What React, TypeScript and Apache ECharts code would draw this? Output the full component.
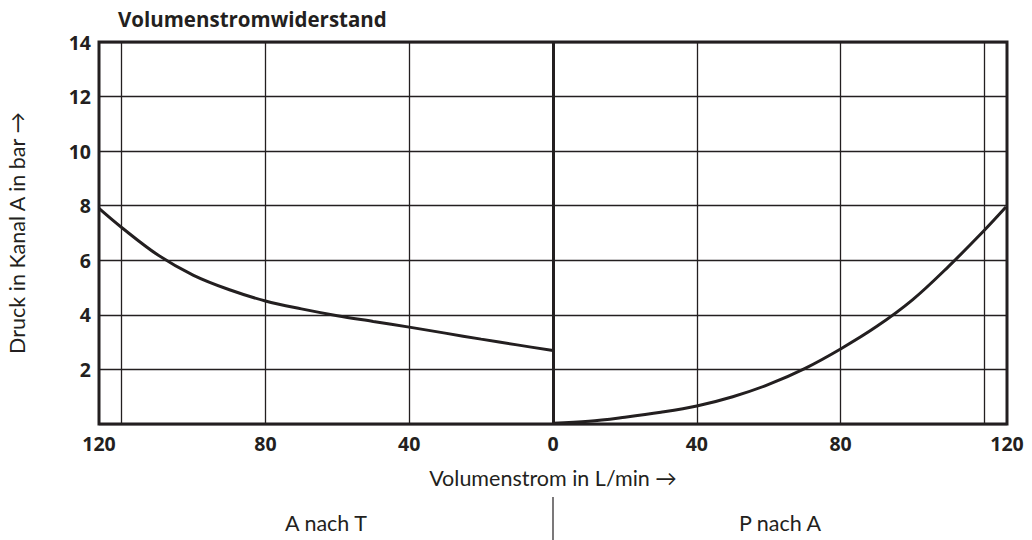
import React, { useEffect, useRef } from "react";
import * as echarts from "echarts";

const AXIS_MAX = 126.3;
const xLabelValues = [-AXIS_MAX, -80, -40, 0, 40, 80, AXIS_MAX];
const gridLinesX = [-120, -80, -40, 40, 80, 120];

// A nach T (left panel, plotted at negative x)
const aNachTFlow = [126.3, 120, 110, 100, 90, 80, 70, 60, 50, 40, 30, 20, 10, 0];
const aNachTPressure = [7.9, 7.2, 6.2, 5.45, 4.92, 4.51, 4.22, 3.97, 3.76, 3.55, 3.33, 3.11, 2.9, 2.69];

// P nach A (right panel)
const pNachAFlow = [0, 10, 20, 30, 40, 50, 60, 70, 80, 90, 100, 110, 120, 126];
const pNachAPressure = [0.03, 0.1, 0.25, 0.43, 0.66, 1.0, 1.45, 2.03, 2.75, 3.57, 4.55, 5.77, 7.1, 7.95];

const INK = "#231f20";
const BOLD_FONT = "'Open Sans', 'Noto Sans', sans-serif";
const LIGHT_FONT = "Lato, 'Open Sans', sans-serif";

export default function App() {
  const ref = useRef<HTMLDivElement>(null);
  useEffect(() => {
    if (!ref.current) return;
    const chart = echarts.init(ref.current, null, { renderer: "svg" });
    const left = aNachTFlow.map((f, i) => [-f, aNachTPressure[i]]);
    const right = pNachAFlow.map((f, i) => [f, pNachAPressure[i]]);
    chart.setOption({
      animation: false,
      backgroundColor: "#ffffff",
      textStyle: { fontFamily: BOLD_FONT, color: INK },
      title: {
        text: "Volumenstromwiderstand",
        left: 113,
        top: 3,
        textStyle: { fontFamily: BOLD_FONT, fontWeight: "bold", fontSize: 20.5, color: INK },
      },
      grid: {
        left: 99,
        right: 25,
        top: 42,
        bottom: 116,
        containLabel: false,
        outerBoundsMode: "none",
        show: true,
        borderColor: INK,
        borderWidth: 3,
        backgroundColor: "transparent",
      },
      xAxis: {
        type: "value",
        min: -AXIS_MAX,
        max: AXIS_MAX,
        name: "Volumenstrom in L/min \u2192",
        nameLocation: "middle",
        nameGap: 43,
        nameTextStyle: { fontFamily: LIGHT_FONT, fontSize: 21.5, color: INK, fontWeight: "normal" },
        axisLine: { show: false },
        axisTick: { show: false },
        splitLine: { show: false },
        axisLabel: {
          customValues: xLabelValues,
          margin: 9,
          fontFamily: BOLD_FONT,
          fontSize: 19.5,
          fontWeight: "bold",
          color: INK,
          formatter: (v: number) => {
            const a = Math.abs(v);
            return a > 121 ? "120" : String(Math.round(a));
          },
        },
      },
      yAxis: {
        type: "value",
        min: 0,
        max: 14,
        interval: 2,
        name: "Druck in Kanal A in bar \u2192",
        nameLocation: "middle",
        nameGap: 71,
        nameTextStyle: { fontFamily: LIGHT_FONT, fontSize: 21.5, color: INK, fontWeight: "normal" },
        axisLine: { show: false },
        axisTick: { show: false },
        splitLine: { show: true, lineStyle: { color: INK, width: 1.3 } },
        axisLabel: {
          margin: 8,
          fontFamily: BOLD_FONT,
          fontSize: 19.5,
          fontWeight: "bold",
          color: INK,
          formatter: (v: number) => (v === 0 ? "" : String(v)),
        },
      },
      series: [
        {
          type: "line",
          name: "A nach T",
          data: left,
          smooth: 0.35,
          showSymbol: false,
          lineStyle: { color: INK, width: 3 },
          silent: true,
          z: 5,
          markLine: {
            silent: true,
            symbol: "none",
            label: { show: false },
            lineStyle: { color: INK, width: 1.3, type: "solid" },
            data: gridLinesX.map((x) => ({ xAxis: x })),
          },
        },
        {
          type: "line",
          name: "P nach A",
          data: right,
          smooth: 0.35,
          showSymbol: false,
          lineStyle: { color: INK, width: 3 },
          silent: true,
          z: 5,
          markLine: {
            silent: true,
            symbol: "none",
            label: { show: false },
            lineStyle: { color: INK, width: 3, type: "solid" },
            data: [{ xAxis: 0 }],
          },
        },
      ],
      graphic: [
        {
          type: "text",
          x: 326,
          y: 523,
          style: {
            text: "A nach T",
            font: `normal 21.5px ${LIGHT_FONT}`,
            fill: INK,
            align: "center",
            verticalAlign: "middle",
          },
        },
        {
          type: "text",
          x: 780,
          y: 523,
          style: {
            text: "P nach A",
            font: `normal 21.5px ${LIGHT_FONT}`,
            fill: INK,
            align: "center",
            verticalAlign: "middle",
          },
        },
        {
          type: "line",
          shape: { x1: 553, y1: 497, x2: 553, y2: 540 },
          style: { stroke: INK, lineWidth: 1.2 },
        },
      ],
    });
    return () => chart.dispose();
  }, []);
  return <div ref={ref} style={{ width: 1032, height: 540, position: "absolute", left: 0, top: 0 }} />;
}
